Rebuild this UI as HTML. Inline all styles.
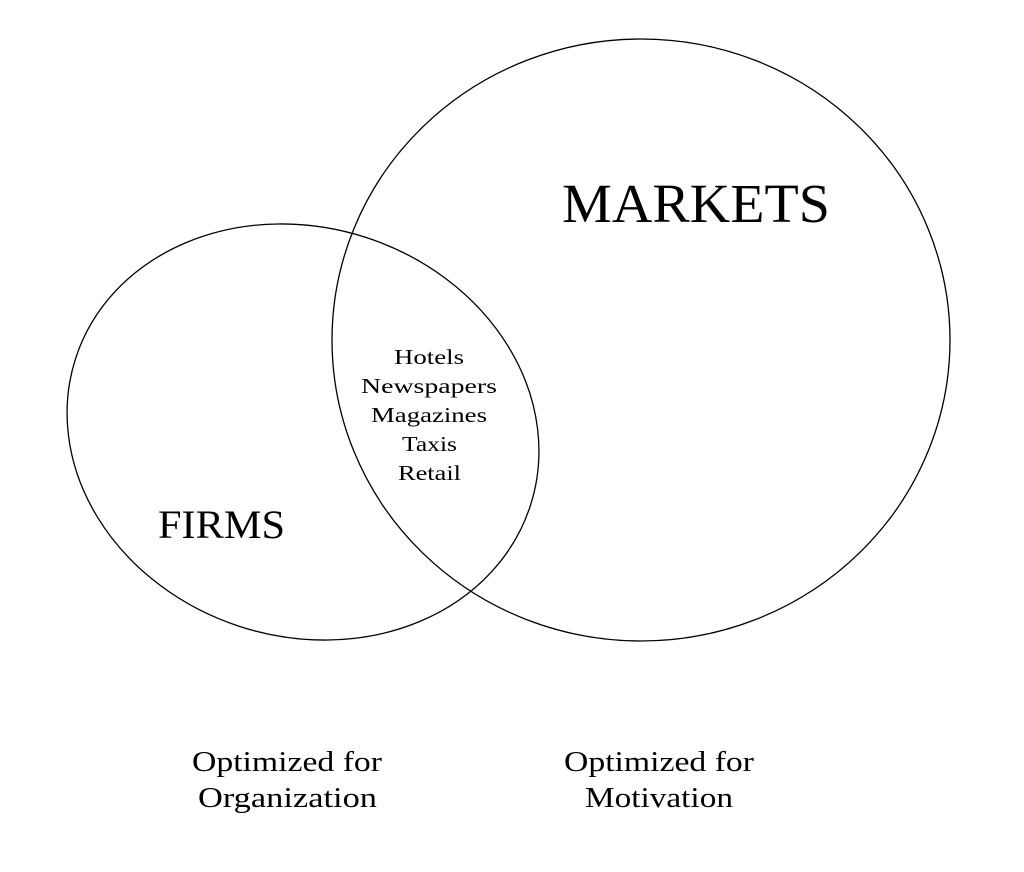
<!DOCTYPE html>
<html><head><meta charset="utf-8"><style>
html,body{margin:0;padding:0;background:#fff;}
body{width:1024px;height:867px;overflow:hidden;}
svg text{font-family:"Liberation Serif",serif;fill:#000;}
</style></head><body>
<svg width="1024" height="867" viewBox="0 0 1024 867" xmlns="http://www.w3.org/2000/svg">
<rect width="1024" height="867" fill="#fff"/>
<ellipse cx="641" cy="340" rx="309" ry="301" fill="none" stroke="#000" stroke-width="1.3"/>
<ellipse cx="303" cy="432" rx="239" ry="204.5" fill="none" stroke="#000" stroke-width="1.3" transform="rotate(18 303 432)"/>
<g lengthAdjust="spacingAndGlyphs">
<text x="562" y="222" font-size="55" textLength="268" lengthAdjust="spacingAndGlyphs">MARKETS</text>
<text x="158" y="538" font-size="40" textLength="127" lengthAdjust="spacingAndGlyphs">FIRMS</text>
<text x="394" y="364" font-size="21" textLength="70" lengthAdjust="spacingAndGlyphs">Hotels</text>
<text x="361" y="393" font-size="21" textLength="136" lengthAdjust="spacingAndGlyphs">Newspapers</text>
<text x="371" y="422" font-size="21" textLength="116" lengthAdjust="spacingAndGlyphs">Magazines</text>
<text x="402" y="451" font-size="21" textLength="55" lengthAdjust="spacingAndGlyphs">Taxis</text>
<text x="398" y="480" font-size="21" textLength="63" lengthAdjust="spacingAndGlyphs">Retail</text>
<text x="192" y="771" font-size="28" textLength="190" lengthAdjust="spacingAndGlyphs">Optimized for</text>
<text x="198" y="807" font-size="28" textLength="179" lengthAdjust="spacingAndGlyphs">Organization</text>
<text x="564" y="771" font-size="28" textLength="190" lengthAdjust="spacingAndGlyphs">Optimized for</text>
<text x="585" y="807" font-size="28" textLength="148" lengthAdjust="spacingAndGlyphs">Motivation</text>
</g>
</svg>
</body></html>
